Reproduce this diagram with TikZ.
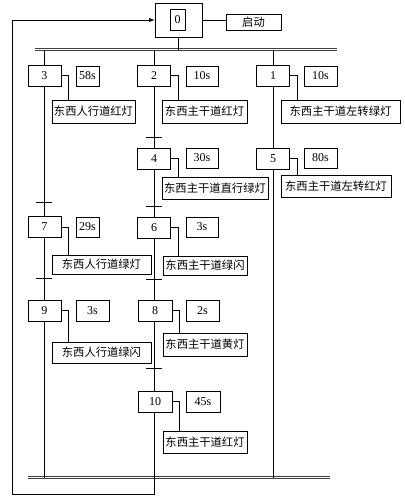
\documentclass[tikz,border=0pt]{standalone}
\usepackage{fontspec}
\setmainfont{Liberation Serif}
\newfontfamily\cjk{Noto Sans CJK SC}
\usetikzlibrary{arrows}

\tikzset{
  stepbox/.style={draw, line width=0.6pt, inner sep=0pt, minimum width=33pt, minimum height=21pt, font=\fontsize{12}{12}\selectfont},
  timebox/.style={draw, line width=0.6pt, inner sep=0pt, minimum width=32pt, minimum height=20pt, font=\fontsize{12}{12}\selectfont},
  actbox/.style={draw, line width=0.6pt, inner sep=0pt, minimum height=22pt, font=\cjk\fontsize{11.3}{11.3}\selectfont},
  wire/.style={line width=0.6pt},
  bar/.style={line width=0.8pt, color=black!75},
}

\begin{document}
\begin{tikzpicture}[x=1pt,y=-1pt]
\useasboundingbox (0,0) rectangle (405,499);

\node[draw, line width=0.6pt, minimum width=47pt, minimum height=34pt, inner sep=0pt] (i0o) at (178.5,20) {};
\node[stepbox, minimum width=15pt] (i0) at (177.5,19.5) {0};
\node[actbox, minimum width=55pt, minimum height=16pt] (qd) at (253.5,22) {启动};
\draw[wire] (i0o.east) -- (i0o.east -| qd.west);

\coordinate (tbL) at (35,50);
\coordinate (tbR) at (337,50);
\coordinate (bbL) at (28,478);
\coordinate (bbR) at (330,478);
\draw[bar] (tbL) -- (tbR);
\draw[bar] ([yshift=2]tbL) -- ([yshift=2]tbR);
\draw[bar] (bbL) -- (bbR);
\draw[bar] ([yshift=2]bbL) -- ([yshift=2]bbR);
\draw[wire] (i0o.south) -- (i0o.south |- tbL);

% steps
\node[stepbox] (s3) at (44.5,75.5) {3};
\node[stepbox] (s2) at (154,75.5) {2};
\node[stepbox] (s1) at (273,75.5) {1};
\node[stepbox] (s4) at (154,158.5) {4};
\node[stepbox] (s5) at (273,158.5) {5};
\node[stepbox] (s7) at (44.5,227) {7};
\node[stepbox] (s6) at (154,227.5) {6};
\node[stepbox] (s9) at (44.5,310.5) {9};
\node[stepbox, minimum width=34pt] (s8) at (155,310.5) {8};
\node[stepbox, minimum width=34pt] (s10) at (155,401.5) {10};

% times
\node[timebox, minimum width=23pt] (t3) at (87.5,76) {58s};
\node[timebox] (t2) at (202,76) {10s};
\node[timebox, minimum width=33pt] (t1) at (320.5,76) {10s};
\node[timebox] (t4) at (202,158) {30s};
\node[timebox, minimum width=33pt] (t5) at (320.5,158) {80s};
\node[timebox, minimum width=23pt] (t7) at (87.5,227) {29s};
\node[timebox] (t6) at (202,227) {3s};
\node[timebox, minimum width=33pt, minimum height=21pt] (t9) at (92.5,310.5) {3s};
\node[timebox, minimum width=33pt, minimum height=21pt] (t8) at (202.5,310.5) {2s};
\node[timebox, minimum width=34pt, minimum height=21pt] (t10) at (203,401.5) {45s};

% actions
\node[actbox, minimum width=83pt, minimum height=23pt] (a3) at (93.5,111.5) {东西人行道红灯};
\node[actbox, minimum width=85pt, minimum height=23pt] (a2) at (204.5,111.5) {东西主干道红灯};
\node[actbox, minimum width=119pt, minimum height=23pt] (a1) at (340.5,111.5) {东西主干道左转绿灯};
\node[actbox, minimum width=106pt] (a4) at (215,188) {东西主干道直行绿灯};
\node[actbox, minimum width=110pt] (a5) at (336,186) {东西主干道左转红灯};
\node[actbox, minimum width=99pt, minimum height=19pt] (a7) at (101.5,264.5) {东西人行道绿灯};
\node[actbox, minimum width=84pt, minimum height=19pt] (a6) at (205,265.5) {东西主干道绿闪};
\node[actbox, minimum width=99pt, minimum height=21pt] (a9) at (101.5,352.5) {东西人行道绿闪};
\node[actbox, minimum width=84pt, minimum height=23pt] (a8) at (205,344.5) {东西主干道黄灯};
\node[actbox, minimum width=84pt, minimum height=22pt] (a10) at (205,442) {东西主干道红灯};

\foreach \s in {3,2,1,4,5,7,6,9,8,10}
  \draw[wire] (s\s.east) -- ++(7,0) coordinate (k\s) -- (k\s |- a\s.north);

% columns
\draw[wire] (s3.north) -- (s3.north |- tbL);
\draw[wire] (s2.north) -- (s2.north |- tbL);
\draw[wire] (s1.north) -- (s1.north |- tbL);
\draw[wire] (s3.south) -- (s7.north);
\draw[wire] (s7.south) -- (s9.north);
\draw[wire] (s9.south) -- (s9.south |- bbL);
\draw[wire] (s2.south) -- (s4.north);
\draw[wire] (s4.south) -- (s6.north);
\draw[wire] (s6.south) -- (s6.south |- s8.north);
\draw[wire] (s6.south |- s8.south) -- (s6.south |- s10.north);
\draw[wire] (s1.south) -- (s5.north);
\draw[wire] (s5.south) -- (s5.south |- bbL);

% transitions
\foreach \x/\y in {44/202, 44/278, 154/137, 154/206, 154/279, 154/368}
  \draw[wire] (\x-8,\y) -- (\x+8,\y);

% loop back
\coordinate (lp) at (12,494);
\draw[line width=0.9pt, -latex] (s6.south |- s10.south) |- (lp) |- (i0o.west);
\end{tikzpicture}
\end{document}
